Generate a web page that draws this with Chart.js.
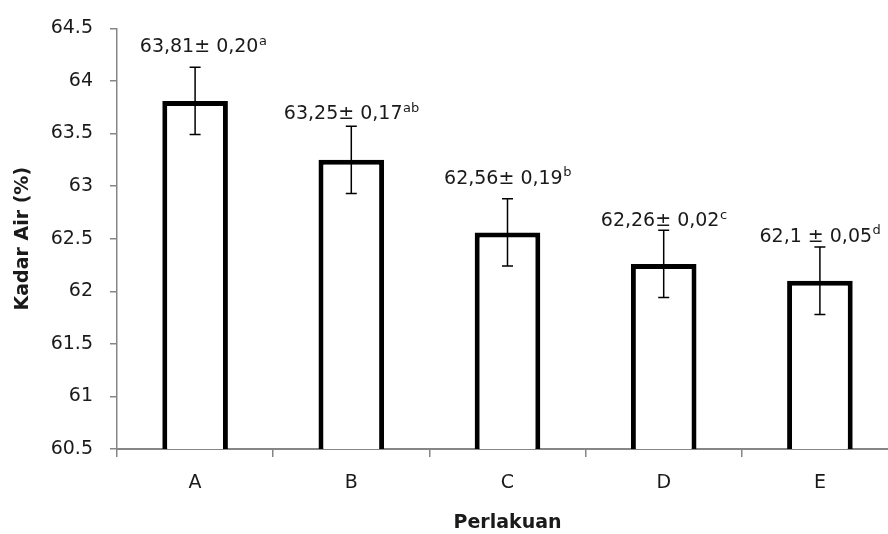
<!DOCTYPE html>
<html>
<head>
<meta charset="utf-8">
<script src="https://cdn.jsdelivr.net/npm/chart.js@4"></script>
<style>
  html, body { margin: 0; padding: 0; background: #fff; overflow: hidden; width: 888px; height: 534px; }
  #wrap { width: 898px; height: 534px; }
</style>
</head>
<body>
<div id="wrap"><canvas id="c" width="898" height="534"></canvas></div>
<script>
// ---- data ----
const categories = ["A", "B", "C", "D", "E"];
const means = [63.81, 63.25, 62.56, 62.26, 62.1];
const errorBars = [0.32, 0.32, 0.32, 0.32, 0.32];
const labelTexts = ["63,81\u00B1 0,20", "63,25\u00B1 0,17", "62,56\u00B1 0,19", "62,26\u00B1 0,02", "62,1 \u00B1 0,05"];
const labelLetters = ["a", "ab", "b", "c", "d"];
const yTicks = [60.5, 61, 61.5, 62, 62.5, 63, 63.5, 64, 64.5];

const FONT = "'DejaVu Sans', sans-serif";
const TEXT = "#1a1a1a";
const AXIS = "#868686";

const errorAndLabelPlugin = {
  id: "errAndLabels",
  afterDatasetsDraw(chart, args, opts) {
    const ctx = chart.ctx;
    const y = chart.scales.y;
    const meta = chart.getDatasetMeta(0);
    ctx.save();
    meta.data.forEach((bar, i) => {
      const v = means[i], e = errorBars[i];
      const x = bar.x;
      const yt = y.getPixelForValue(v + e);
      const yb = y.getPixelForValue(v - e);
      ctx.strokeStyle = "#000";
      ctx.lineWidth = 1.5;
      ctx.beginPath();
      ctx.moveTo(x, yt); ctx.lineTo(x, yb);
      ctx.moveTo(x - 5.5, yt); ctx.lineTo(x + 5.5, yt);
      ctx.moveTo(x - 5.5, yb); ctx.lineTo(x + 5.5, yb);
      ctx.stroke();

      const mainFont = "19px " + FONT;
      const supFont = "13px " + FONT;
      ctx.font = mainFont;
      const w1 = ctx.measureText(labelTexts[i]).width;
      ctx.font = supFont;
      const w2 = ctx.measureText(labelLetters[i]).width;
      const total = w1 + w2;
      const cy = yt - opts.offsets[i];
      const left = x - total / 2 + (opts.shift[i] || 0);
      ctx.fillStyle = TEXT;
      ctx.textBaseline = "middle";
      ctx.textAlign = "left";
      ctx.font = mainFont;
      ctx.fillText(labelTexts[i], left, cy);
      ctx.font = supFont;
      ctx.fillText(labelLetters[i], left + w1 + 0.5, cy - 6);
    });
    ctx.restore();
  }
};

new Chart(document.getElementById("c"), {
  type: "bar",
  data: {
    labels: categories,
    datasets: [{
      data: means,
      backgroundColor: "#ffffff",
      borderColor: "#000000",
      borderWidth: 5,
      borderSkipped: false,
      categoryPercentage: 1.0,
      barPercentage: 0.42
    }]
  },
  options: {
    responsive: false,
    animation: false,
    devicePixelRatio: 1,
    layout: { padding: { top: 27, right: 0, bottom: 0, left: 0 } },
    plugins: {
      legend: { display: false },
      tooltip: { enabled: false },
      errAndLabels: { offsets: [20, 12, 20, 9, 10], shift: [8, 0, 0, 0, 0] }
    },
    scales: {
      y: {
        min: 60.5,
        max: 64.5,
        afterBuildTicks(scale) { scale.ticks = yTicks.map(v => ({ value: v })); },
        afterFit(scale) { scale.width = 117; },
        ticks: {
          color: TEXT,
          font: { family: FONT, size: 19 },
          padding: 17,
          callback: (v) => String(v)
        },
        grid: { drawOnChartArea: false, drawTicks: true, tickLength: 7, color: AXIS, lineWidth: 1.5 },
        border: { color: AXIS, width: 1.5 },
        title: {
          display: true,
          text: "Kadar Air (%)",
          color: TEXT,
          font: { family: FONT, size: 19, weight: "bold" },
          padding: { top: 12, bottom: 0 }
        }
      },
      x: {
        afterFit(scale) { scale.height = 85; },
        ticks: {
          color: TEXT,
          font: { family: FONT, size: 19 },
          padding: 15
        },
        grid: { offset: true, drawOnChartArea: false, drawTicks: true, tickLength: 8, color: AXIS, lineWidth: 1.5 },
        border: { color: AXIS, width: 2 },
        title: {
          display: true,
          text: "Perlakuan",
          color: TEXT,
          font: { family: FONT, size: 19, weight: "bold" },
          padding: { top: 0, bottom: 0 }
        }
      }
    }
  },
  plugins: [errorAndLabelPlugin]
});
</script>
</body>
</html>
